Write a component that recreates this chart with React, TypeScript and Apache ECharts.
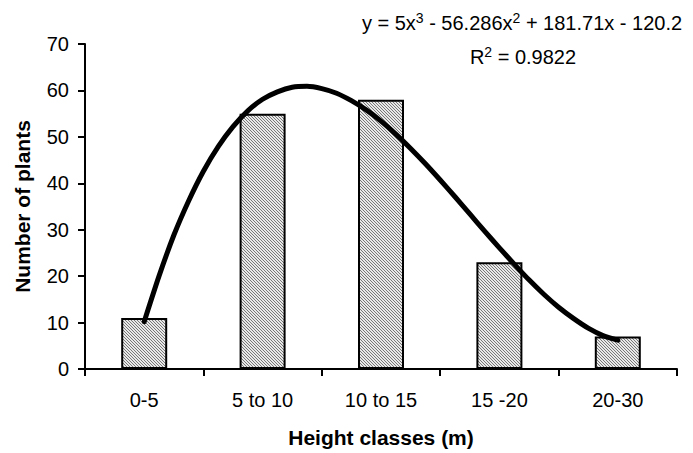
import React, { useEffect, useRef } from "react";
import * as echarts from "echarts";

const categories = ["0-5", "5 to 10", "10 to 15", "15 -20", "20-30"];
const plantCounts = [11, 55, 58, 23, 7];
// trendline, positions in category units (1 = first class centre)
const trendX = [1, 1.125, 1.25, 1.375, 1.5, 1.625, 1.75, 1.875, 2, 2.125, 2.25, 2.375, 2.5, 2.625, 2.75, 2.875, 3, 3.125, 3.25, 3.375, 3.5, 3.625, 3.75, 3.875, 4, 4.125, 4.25, 4.375, 4.5, 4.625, 4.75, 4.875, 5];
const trendY = [10.2, 20.0, 28.8, 36.2, 42.6, 47.9, 52.2, 55.6, 58.1, 59.7, 60.7, 60.9, 60.4, 59.4, 57.8, 55.8, 53.4, 50.6, 47.5, 44.2, 40.7, 37.1, 33.4, 29.7, 26.1, 22.6, 19.2, 16.1, 13.3, 10.9, 8.8, 7.2, 6.2];
const yTicks = { min: 0, max: 70, interval: 10 };
const equationText = "y = 5x{sup|3} - 56.286x{sup|2} + 181.71x - 120.2";
const r2Text = "R{sup|2} = 0.9822";

function makeHatch(): HTMLCanvasElement {
  const c = document.createElement("canvas");
  c.width = 3;
  c.height = 3;
  const ctx = c.getContext("2d")!;
  ctx.fillStyle = "#e8e8e8";
  ctx.fillRect(0, 0, 3, 3);
  ctx.fillStyle = "#777777";
  for (let i = 0; i < 3; i++) ctx.fillRect(i, i, 1, 1);
  return c;
}

export default function App() {
  const ref = useRef<HTMLDivElement>(null);
  useEffect(() => {
    if (!ref.current) return;
    const chart = echarts.init(ref.current, null, { renderer: "svg" });
    const font = "'Liberation Sans', Arial, sans-serif";
    const trendData = trendX.map((x, i) => [x, trendY[i]]);
    const supStyle = { fontSize: 14, verticalAlign: "top", lineHeight: 14, fill: "#000", fontFamily: font };
    chart.setOption({
      animation: false,
      backgroundColor: "#ffffff",
      textStyle: { fontFamily: font },
      grid: { left: 85, right: 16, top: 44, bottom: 79, containLabel: false },
      xAxis: [
        {
          type: "category",
          data: categories,
          boundaryGap: true,
          axisLine: { lineStyle: { color: "#000", width: 2 } },
          axisTick: { show: true, length: 7, lineStyle: { color: "#000", width: 2 } },
          axisLabel: { color: "#000", fontSize: 20, fontFamily: font, margin: 21 },
          name: "Height classes (m)",
          nameLocation: "middle",
          nameGap: 58,
          nameTextStyle: { color: "#000", fontSize: 21, fontWeight: "bold", fontFamily: font },
        },
        {
          type: "value",
          min: 0.5,
          max: 5.5,
          show: false,
        },
      ],
      yAxis: {
        type: "value",
        min: yTicks.min,
        max: yTicks.max,
        interval: yTicks.interval,
        splitLine: { show: false },
        axisLine: { show: true, lineStyle: { color: "#000", width: 2 } },
        axisTick: { show: true, length: 7, lineStyle: { color: "#000", width: 2 } },
        axisLabel: { color: "#000", fontSize: 20, fontFamily: font, margin: 16 },
        name: "Number of plants",
        nameLocation: "middle",
        nameGap: 52,
        nameTextStyle: { color: "#000", fontSize: 21, fontWeight: "bold", fontFamily: font },
      },
      series: [
        {
          type: "bar",
          data: plantCounts,
          barWidth: 46,
          itemStyle: {
            color: { image: makeHatch(), repeat: "repeat" },
            borderColor: "#000",
            borderWidth: 2,
          },
        },
        {
          type: "line",
          xAxisIndex: 1,
          data: trendData,
          smooth: 0.2,
          showSymbol: false,
          symbol: "none",
          lineStyle: { color: "#000", width: 5, cap: "round", join: "round" },
          z: 5,
        },
      ],
      graphic: [
        {
          type: "text",
          x: 522,
          y: 23,
          style: {
            text: equationText,
            align: "center",
            verticalAlign: "middle",
            font: `20px ${font}`,
            lineHeight: 24,
            fill: "#000",
            rich: { sup: supStyle },
          },
        },
        {
          type: "text",
          x: 523,
          y: 57,
          style: {
            text: r2Text,
            align: "center",
            verticalAlign: "middle",
            font: `20px ${font}`,
            lineHeight: 24,
            fill: "#000",
            rich: { sup: supStyle },
          },
        },
      ],
    });
    return () => chart.dispose();
  }, []);
  return <div ref={ref} style={{ width: 693, height: 453, position: "absolute", left: 0, top: 0 }} />;
}
